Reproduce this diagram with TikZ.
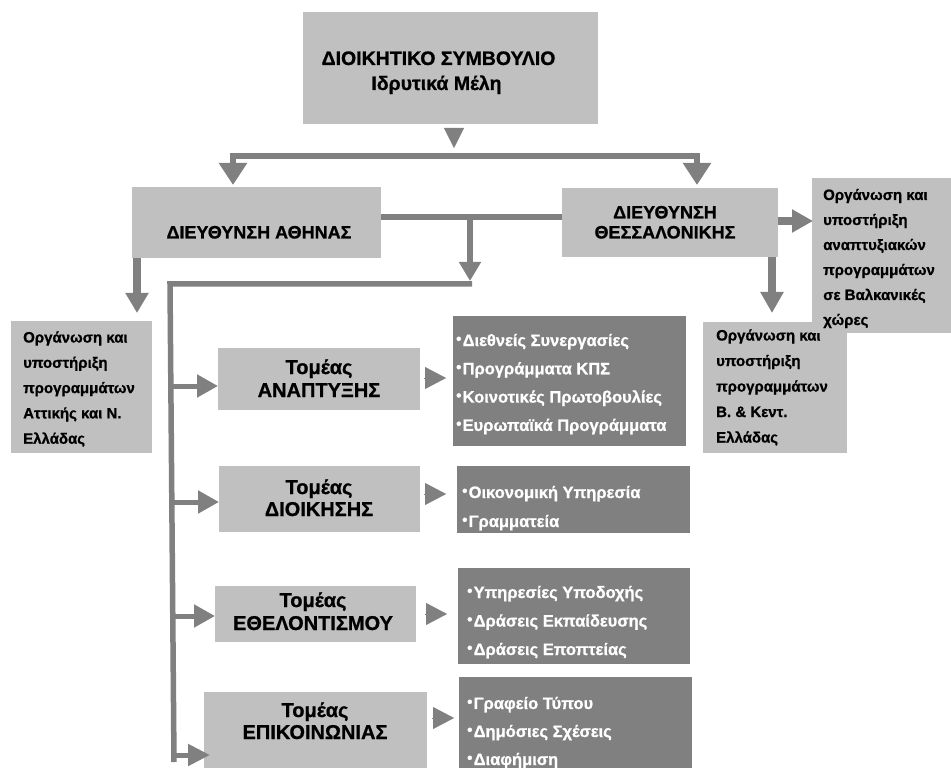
\documentclass[tikz,border=0pt]{standalone}
\usepackage{fontspec}
\setmainfont{Liberation Sans}[BoldFont={Liberation Sans Bold}, BoldFeatures={FakeBold=0.9}]
\usetikzlibrary{arrows.meta}
\definecolor{lightbox}{HTML}{C0C0C0}
\definecolor{darkbox}{HTML}{808080}
\newcommand\RBox[6]{\node[#2, minimum width={(#5-#3)*1pt}, minimum height={(#6-#4)*1pt}] (#1) at ({(#3+#5)/2},{(#4+#6)/2}) {};}
\newcommand\Lines[6]{\foreach \t [count=\i from 0] in {#6} {\node[#2] (#1-\i) at (#3,{#4+\i*#5}) {\t};}}
\newcommand\bul{{\fontsize{15}{15}\selectfont\raisebox{2.2pt}{•}}\kern1.2pt}
\begin{document}
\begin{tikzpicture}[x=1pt,y=-1pt,
  lbox/.style={fill=lightbox, draw=none, inner sep=0pt, outer sep=0pt},
  dbox/.style={fill=darkbox, draw=none, inner sep=0pt, outer sep=0pt},
  tl/.style={anchor=base west, inner sep=0pt},
  tc/.style={anchor=base, inner sep=0pt},
  ftop/.style={font=\fontsize{19.5}{22}\selectfont\bfseries},
  fdir/.style={font=\fontsize{18}{20}\selectfont\bfseries},
  ftom/.style={font=\fontsize{20}{22}\selectfont\bfseries},
  fside/.style={font=\fontsize{15}{18}\selectfont\bfseries},
  flist/.style={font=\fontsize{16.5}{18}\selectfont\bfseries, text=white},
  conn/.style={draw=darkbox, line join=miter},
  head/.style={draw=darkbox, line width=0.1pt, -{Triangle[width=22pt,length=21pt]}},
]
\useasboundingbox (0,0) rectangle (951,770);

% ---------- boxes ----------
\RBox{top}{lbox}{303}{12}{598}{124}
\RBox{athens}{lbox}{132}{187}{381}{258}
\RBox{thess}{lbox}{562}{188}{778}{257}
\RBox{left}{lbox}{11}{321}{152}{453}
\RBox{bk}{lbox}{703}{322}{847}{453}
\RBox{anap}{lbox}{218}{348}{420}{410}
\RBox{dioik}{lbox}{219}{466}{420}{532}
\RBox{ethel}{lbox}{215}{586}{416}{642}
\RBox{epik}{lbox}{204}{692}{427}{768}
\RBox{lanap}{dbox}{453}{316}{686}{446}
\RBox{ldioik}{dbox}{457}{466}{690}{533}
\RBox{lethel}{dbox}{458}{568}{690}{664}
\RBox{lepik}{dbox}{459}{677}{692}{768}

% ---------- texts ----------
\node[tc,ftop] (ttop1) at (438.5,65) {ΔΙΟΙΚΗΤΙΚΟ ΣΥΜΒΟΥΛΙΟ};
\node[tc,ftop] (ttop2) at (436.5,90) {Ιδρυτικά Μέλη};
\node[tc,fdir] (tath) at (259,238.5) {ΔΙΕΥΘΥΝΣΗ ΑΘΗΝΑΣ};
\node[tc,fdir] (tth1) at (665,218.5) {ΔΙΕΥΘΥΝΣΗ};
\node[tc,fdir] (tth2) at (665,238.5) {ΘΕΣΣΑΛΟΝΙΚΗΣ};

\Lines{tleft}{tl,fside}{23}{342.5}{25.3}{Οργάνωση και,υποστήριξη,προγραμμάτων,Αττικής και Ν.,Ελλάδας}
\Lines{tbk}{tl,fside}{716}{340.5}{25.5}{Οργάνωση και,υποστήριξη,προγραμμάτων,Β. \& Κεντ.,Ελλάδας}
\RBox{balkan}{lbox}{812}{178}{951}{333}
\Lines{tbal}{tl,fside}{823}{200}{25}{Οργάνωση και,υποστήριξη,αναπτυξιακών,προγραμμάτων,σε Βαλκανικές,χώρες}

\node[tc,ftom] (tan1) at (319,374) {Τομέας};
\node[tc,ftom] (tan2) at (319,397) {ΑΝΑΠΤΥΞΗΣ};
\node[tc,ftom] (tdi1) at (319,494) {Τομέας};
\node[tc,ftom] (tdi2) at (319,516) {ΔΙΟΙΚΗΣΗΣ};
\node[tc,ftom] (tet1) at (313,607) {Τομέας};
\node[tc,ftom] (tet2) at (313,630) {ΕΘΕΛΟΝΤΙΣΜΟΥ};
\node[tc,ftom] (tep1) at (315,717) {Τομέας};
\node[tc,ftom] (tep2) at (315,739) {ΕΠΙΚΟΙΝΩΝΙΑΣ};

\Lines{tla}{tl,flist}{456}{346}{28.3}{\bul Διεθνείς Συνεργασίες,\bul Προγράμματα ΚΠΣ,\bul Κοινοτικές Πρωτοβουλίες,\bul Ευρωπαϊκά Προγράμματα}
\Lines{tld}{tl,flist}{462}{498}{29}{\bul Οικονομική Υπηρεσία,\bul Γραμματεία}
\Lines{tle}{tl,flist}{467}{598}{28.5}{\bul Υπηρεσίες Υποδοχής,\bul Δράσεις Εκπαίδευσης,\bul Δράσεις Εποπτείας}
\Lines{tlp}{tl,flist}{467}{709}{28}{\bul Γραφείο Τύπου,\bul Δημόσιες Σχέσεις,\bul Διαφήμιση}

% ---------- connectors ----------
\coordinate (c0) at (454,128);
\coordinate (c0e) at (454,148);
\coordinate (c1) at (233,156);
\coordinate (c1e) at (233,185);
\coordinate (c2) at (697,156);
\coordinate (c2e) at (697,185);
\draw[head, -{Triangle[width=20pt,length=20pt]}] (c0) -- (c0e);
\draw[conn, line width=6pt, {Triangle[width=27pt,length=22pt]}-{Triangle[width=27pt,length=22pt]}]
  (c1e) -- (c1) -- (c2) -- (c2e);

\coordinate (d0) at (470,217);
\coordinate (d1) at (470,281);
\draw[conn, line width=6pt] (athens.east |- d0) -- (thess.west |- d0);
\draw[conn, line width=6pt, -{Triangle[width=21pt,length=19pt]}] (d0) -- (d1);
\coordinate (r0) at (472,284);
\coordinate (r1) at (170,284);
\coordinate (r2) at (174,762);
\draw[conn, line width=5.5pt] (r0) -- (r1) -- (r2);

\coordinate (b1) at (172,386);
\coordinate (b2) at (173,502);
\coordinate (b3) at (173,616);
\coordinate (b4) at (174,755);
\coordinate (b4e) at (210,755);
\draw[conn, line width=5pt, -{Triangle[width=22pt,length=21pt]}] (b1) -- (anap.west |- b1);
\draw[conn, line width=5pt, -{Triangle[width=22pt,length=21pt]}] (b2) -- (dioik.west |- b2);
\draw[conn, line width=5pt, -{Triangle[width=22pt,length=21pt]}] (b3) -- (ethel.west |- b3);
\draw[conn, line width=5pt, -{Triangle[width=21pt,length=22pt]}] (b4) -- (b4e);

\draw[head] (424,378) -- (446,378);
\draw[head] (424,494) -- (446,494);
\draw[head] (425,614) -- (447,614);
\draw[head] (432,718) -- (454,718);

\coordinate (a1) at (137,258);
\coordinate (a1e) at (137,313);
\coordinate (a2) at (772,257);
\coordinate (a2e) at (772,313);
\coordinate (a3) at (778,221);
\coordinate (a3e) at (813,221);
\draw[conn, line width=8pt, -{Triangle[width=22pt,length=20pt]}] (a1) -- (a1e);
\draw[conn, line width=8pt, -{Triangle[width=22pt,length=21pt]}] (a2) -- (a2e);
\draw[conn, line width=8pt, -{Triangle[width=22pt,length=21pt]}] (a3) -- (a3e);
\end{tikzpicture}
\end{document}
